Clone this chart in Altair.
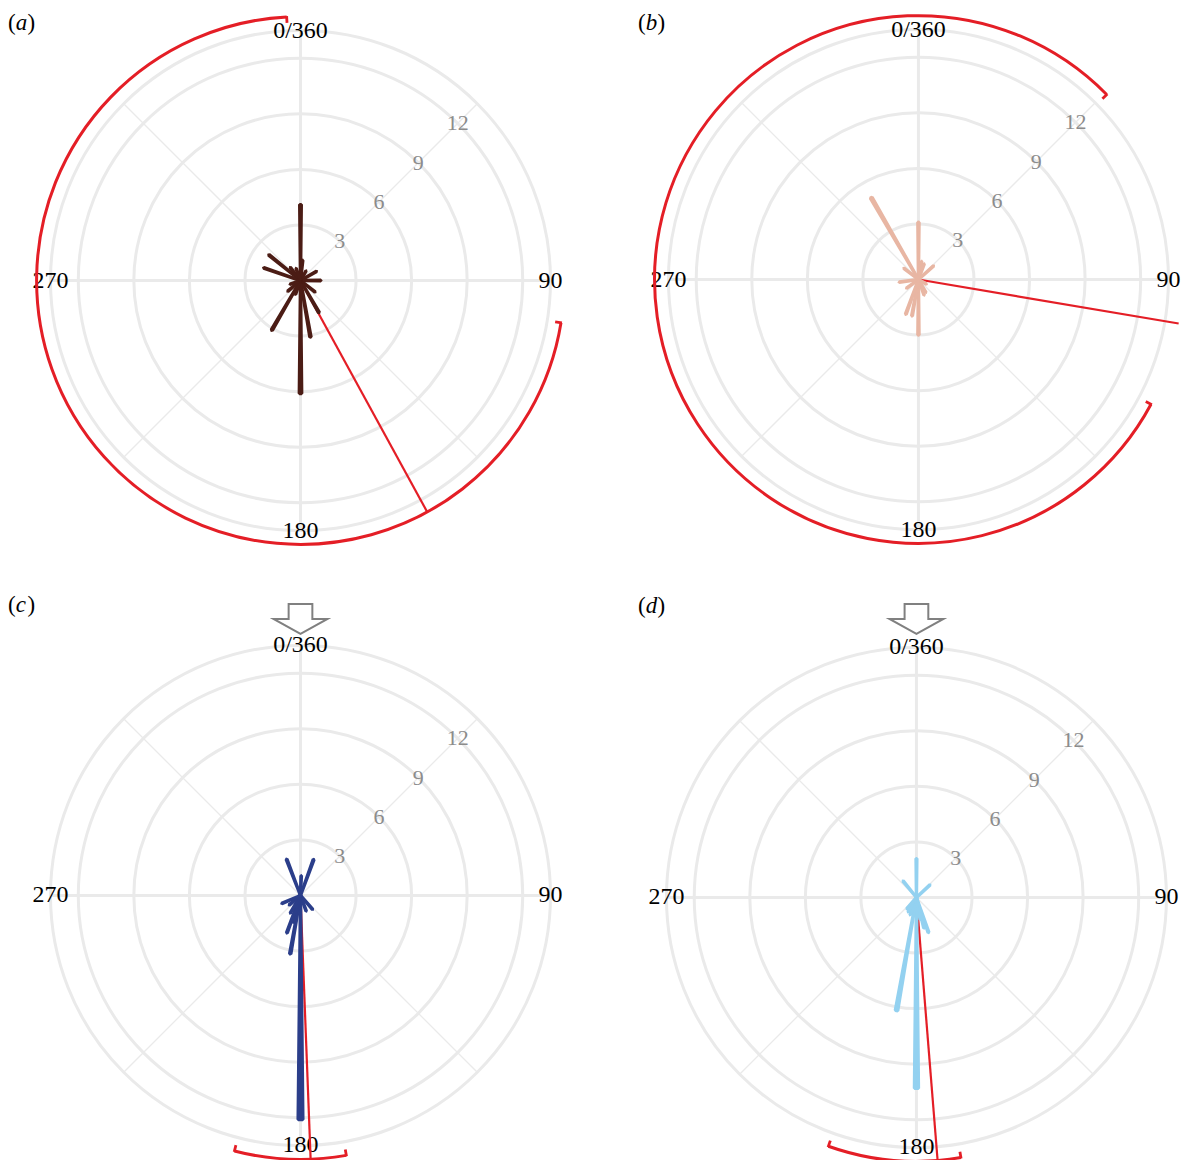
import altair as alt
import pandas as pd

# ---------------- data ----------------
RING_RADII = [3, 6, 9, 12, 13.5]
RADIAL_TICKS = [3, 6, 9, 12]
RADIAL_LABELS = ["3", "6", "9", "12"]
CARDINAL_ANGLES = [0, 90, 180, 270]
CARDINAL_LABELS = ["0/360", "90", "180", "270"]
MAJOR_SPOKES = [0, 90, 180, 270]
MINOR_SPOKES = [45, 135, 225, 315]

# panel (a)
A_DIR = [0, 6, 30, 60, 90, 128, 150, 170, 180, 200, 210, 230, 250, 289, 309, 322, 340]
A_CNT = [4.1, 1.1, 0.6, 1.0, 1.1, 1.0, 2.0, 3.1, 6.1, 0.8, 3.1, 0.9, 0.6, 2.1, 2.2, 0.9, 0.7]
A_MEAN = 151.3
A_CI = [99.2, 357.0]

# panel (b)
B_DIR = [0, 10, 20, 48, 120, 150, 160, 180, 190, 200, 234, 262, 308, 330]
B_CNT = [3.1, 1.0, 0.9, 1.1, 0.5, 0.8, 0.9, 3.0, 2.0, 2.0, 0.8, 1.05, 1.0, 5.1]
B_MEAN = 99.6
B_CI = [118.2, 405.5]

# panel (c)
C_DIR = [2, 20, 139, 160, 180, 190, 195, 200, 210, 230, 247, 339]
C_CNT = [1.07, 2.07, 1.0, 0.9, 12.1, 3.2, 1.5, 2.15, 1.1, 0.8, 1.1, 2.1]
C_MEAN = 177.8
C_CI = [170.0, 194.5]

# panel (d)
D_DIR = [0, 47, 161, 166, 170, 180, 190, 200, 210, 220, 321]
D_CNT = [2.1, 1.0, 2.0, 1.7, 1.2, 10.3, 6.2, 1.0, 0.9, 0.8, 1.15]
D_MEAN = 175.4
D_CI = [170.3, 199.5]

# ---------------- styles ----------------
S = 18.55          # pixels per count unit
R_OUT = 13.5
R_ARC = 14.25
TICK = 0.32
HALF_W = 0.6       # half width of a petal in degrees
GRID = "#EAEAEA"
RED = "#E41E26"
FONT = "Liberation Serif"

PANELS = [
    dict(key="a", dirs=A_DIR, cnts=A_CNT, mean=A_MEAN, ci=A_CI, color="#4B1C15",
         left=8, right=610, top=8, bottom=590, cx=301, cy=278, lab_x=0, lab_y=12, arrow=False),
    dict(key="b", dirs=B_DIR, cnts=B_CNT, mean=B_MEAN, ci=B_CI, color="#E8B6A3",
         left=615, right=1181, top=8, bottom=590, cx=920, cy=277, lab_x=24, lab_y=12, arrow=False),
    dict(key="c", dirs=C_DIR, cnts=C_CNT, mean=C_MEAN, ci=C_CI, color="#2B3E8A",
         left=8, right=610, top=592, bottom=1160, cx=301, cy=894, lab_x=0, lab_y=11, arrow=True),
    dict(key="d", dirs=D_DIR, cnts=D_CNT, mean=D_MEAN, ci=D_CI, color="#93D1F0",
         left=615, right=1181, top=592, bottom=1160, cx=918, cy=896, lab_x=24, lab_y=12, arrow=True),
]

ARROW_PATH = "M-0.44,-0.556L0.44,-0.556L0.44,0L1,0L0,0.556L-1,0L-0.44,0Z"


def panel(p):
    w = p["right"] - p["left"]
    h = p["bottom"] - p["top"]
    xs = alt.Scale(domain=[(p["left"] - p["cx"]) / S, (p["right"] - p["cx"]) / S], nice=False, zero=False)
    ys = alt.Scale(domain=[(p["cy"] - p["bottom"]) / S, (p["cy"] - p["top"]) / S], nice=False, zero=False)
    rs = alt.Scale(type="linear", domain=[0, 15], range=[0, 15 * S], zero=True, nice=False)
    ts = alt.Scale(type="linear", domain=[0, 360], range=[0, 6.283185307179586], zero=False, nice=False)
    ss = alt.Scale(type="pow", exponent=2, domain=[0, 15], range=[0, (30 * S) ** 2], zero=True, nice=False)

    def X(f):
        return alt.X(f, type="quantitative", scale=xs, axis=None)

    def Y(f):
        return alt.Y(f, type="quantitative", scale=ys, axis=None)

    polar = {"px": "datum.r * sin(datum.a * PI / 180)", "py": "datum.r * cos(datum.a * PI / 180)"}

    # rings (circle symbols: diameter = sqrt(size))
    rings = alt.Chart(pd.DataFrame({"r": RING_RADII})).transform_calculate(zx="0", zy="0").mark_point(
        shape="circle", filled=False, stroke=GRID, strokeWidth=3, opacity=1
    ).encode(
        x=X("zx"), y=Y("zy"),
        size=alt.Size("r:Q", scale=ss, legend=None),
    )

    # spokes
    def spokes(angles, width):
        return alt.Chart(pd.DataFrame({"a": angles})).transform_calculate(
            zx="0", zy="0",
            ex=f"{R_OUT} * sin(datum.a * PI / 180)", ey=f"{R_OUT} * cos(datum.a * PI / 180)"
        ).mark_rule(stroke=GRID, strokeWidth=width).encode(
            x=X("zx"), y=Y("zy"), x2="ex:Q", y2="ey:Q"
        )

    major = spokes(MAJOR_SPOKES, 3)
    minor = spokes(MINOR_SPOKES, 1.3)

    # radial labels
    rlab = alt.Chart(pd.DataFrame({"r": RADIAL_TICKS, "t": RADIAL_LABELS})).transform_calculate(
        a="45", **polar
    ).mark_text(font=FONT, fontSize=22, color="#8C8C8C", align="center", baseline="middle").encode(
        x=X("px"), y=Y("py"), text="t:N"
    )

    # angle labels
    alab = alt.Chart(pd.DataFrame({"a": CARDINAL_ANGLES, "t": CARDINAL_LABELS})).transform_calculate(
        r=str(R_OUT), **polar
    ).mark_text(font=FONT, fontSize=24, color="#000000", align="center", baseline="middle").encode(
        x=X("px"), y=Y("py"), text="t:N"
    )

    # mean direction line
    mean = alt.Chart(pd.DataFrame({"a": [p["mean"]]})).transform_calculate(
        zx="0", zy="0",
        ex=f"{R_ARC} * sin(datum.a * PI / 180)", ey=f"{R_ARC} * cos(datum.a * PI / 180)"
    ).mark_rule(stroke=RED, strokeWidth=2.2).encode(x=X("zx"), y=Y("zy"), x2="ex:Q", y2="ey:Q")

    # petals
    bars = alt.Chart(pd.DataFrame({"a": p["dirs"], "n": p["cnts"]})).transform_calculate(
        zx="0", zy="0", r0="0",
        t0=f"datum.a - {HALF_W}", t1=f"datum.a + {HALF_W}"
    ).mark_arc(color=p["color"], stroke=p["color"], strokeWidth=3.4, strokeJoin="bevel").encode(
        x=X("zx"), y=Y("zy"),
        theta=alt.Theta("t0:Q", scale=ts, stack=False), theta2="t1:Q",
        radius=alt.Radius("n:Q", scale=rs), radius2="r0:Q",
    )

    # confidence arc
    ci = alt.Chart(pd.DataFrame({"s": [p["ci"][0]], "e": [p["ci"][1]]})).transform_calculate(
        zx="0", zy="0", rr=str(R_ARC)
    ).mark_arc(filled=False, stroke=RED, strokeWidth=3).encode(
        x=X("zx"), y=Y("zy"),
        theta=alt.Theta("s:Q", scale=ts, stack=False), theta2="e:Q",
        radius=alt.Radius("rr:Q", scale=rs), radius2="rr:Q",
    )
    ticks = alt.Chart(pd.DataFrame({"a": p["ci"]})).transform_calculate(
        sx=f"{R_ARC - TICK} * sin(datum.a * PI / 180)", sy=f"{R_ARC - TICK} * cos(datum.a * PI / 180)",
        ex=f"{R_ARC + 0.05} * sin(datum.a * PI / 180)", ey=f"{R_ARC + 0.05} * cos(datum.a * PI / 180)"
    ).mark_rule(stroke=RED, strokeWidth=2.8).encode(x=X("sx"), y=Y("sy"), x2="ex:Q", y2="ey:Q")

    # panel label "(x)"
    lx, ly = p["lab_x"], p["lab_y"]
    lp = alt.Chart(pd.DataFrame({"t": ["("]})).mark_text(
        font=FONT, fontSize=23, align="left", baseline="middle", color="#000").encode(
        x=alt.value(lx), y=alt.value(ly), text="t:N")
    ll = alt.Chart(pd.DataFrame({"t": [p["key"]]})).mark_text(
        font=FONT, fontSize=23, fontStyle="italic", align="left", baseline="middle", color="#000").encode(
        x=alt.value(lx + 7.8), y=alt.value(ly), text="t:N")
    lr = alt.Chart(pd.DataFrame({"t": [")"]})).mark_text(
        font=FONT, fontSize=23, align="left", baseline="middle", color="#000").encode(
        x=alt.value(lx + 19.5), y=alt.value(ly), text="t:N")

    layers = [rings, major, minor, rlab, alab, mean, bars, ci, ticks, lp, ll, lr]

    if p["arrow"]:
        arrow = alt.Chart(pd.DataFrame({"zx": [0]})).mark_point(
            shape=ARROW_PATH, size=2916, filled=False, stroke="#808080", strokeWidth=2, opacity=1
        ).encode(x=X("zx"), y=alt.value(25))
        layers.append(arrow)

    return alt.layer(*layers).properties(width=w, height=h)


charts = [panel(p) for p in PANELS]
row1 = alt.hconcat(charts[0], charts[1], spacing=5)
row2 = alt.hconcat(charts[2], charts[3], spacing=5)
chart = alt.vconcat(row1, row2, spacing=2).properties(
    padding={"left": 0, "top": 0, "right": 0, "bottom": 0}
).configure_view(stroke=None)

chart.save("out.html", embed_options={"renderer": "svg", "actions": False})
